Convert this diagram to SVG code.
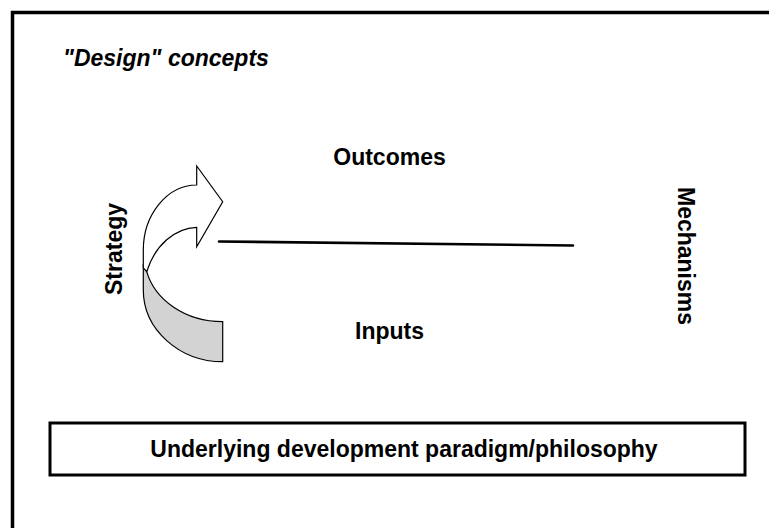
<svg xmlns="http://www.w3.org/2000/svg" width="769" height="528" viewBox="0 0 769 528">
<style>
text { font-family: "Liberation Sans", Arial, sans-serif; font-weight: bold; font-size: 23px; fill: #000; }
.it { font-style: italic; }
.mid { text-anchor: middle; }
.frame { fill: none; stroke: #000; stroke-width: 3.5; }
.box { fill: #fff; stroke: #000; stroke-width: 3; }
.arrow { stroke: #000; stroke-width: 1.2; stroke-linejoin: miter; }
</style>
<rect width="769" height="528" fill="#fff"/>
<g id="frame">
  <path class="frame" d="M12.5,528 L12.5,12.5 L769,12.5"/>
  <text class="it" x="63" y="66">"Design" concepts</text>
</g>
<g id="strategy-arrow">
  <path class="arrow" fill="#d3d3d3" d="M146.7,271.7 C155,300 185,321.7 222.7,321.7 L222.7,361.7 C180,361.7 143.3,330 143.3,290 L143.3,266 Z"/>
  <path class="arrow" fill="#fff" d="M196.7,185 C167,185 143.3,215 143.3,250 L143.3,268 L146.7,271.7 C155,245 175,228 196.7,227.3 L196.7,246.7 L222.7,201.7 L196.7,166 Z"/>
</g>
<g id="strategy">
  <text class="mid" transform="translate(122,249) rotate(-90)">Strategy</text>
</g>
<g id="outcomes">
  <text class="mid" x="389.5" y="165">Outcomes</text>
</g>
<g id="inputs">
  <text class="mid" x="389.5" y="339">Inputs</text>
</g>
<g id="mechanisms">
  <text class="mid" transform="translate(678,256) rotate(90)">Mechanisms</text>
</g>
<g id="connectors">
  <line x1="219" y1="241.5" x2="573" y2="245.5" stroke="#000" stroke-width="2.6" stroke-linecap="round"/>
</g>
<g id="paradigm">
  <rect class="box" x="50" y="423" width="695" height="52"/>
  <text class="mid" x="404" y="457">Underlying development paradigm/philosophy</text>
</g>
</svg>
